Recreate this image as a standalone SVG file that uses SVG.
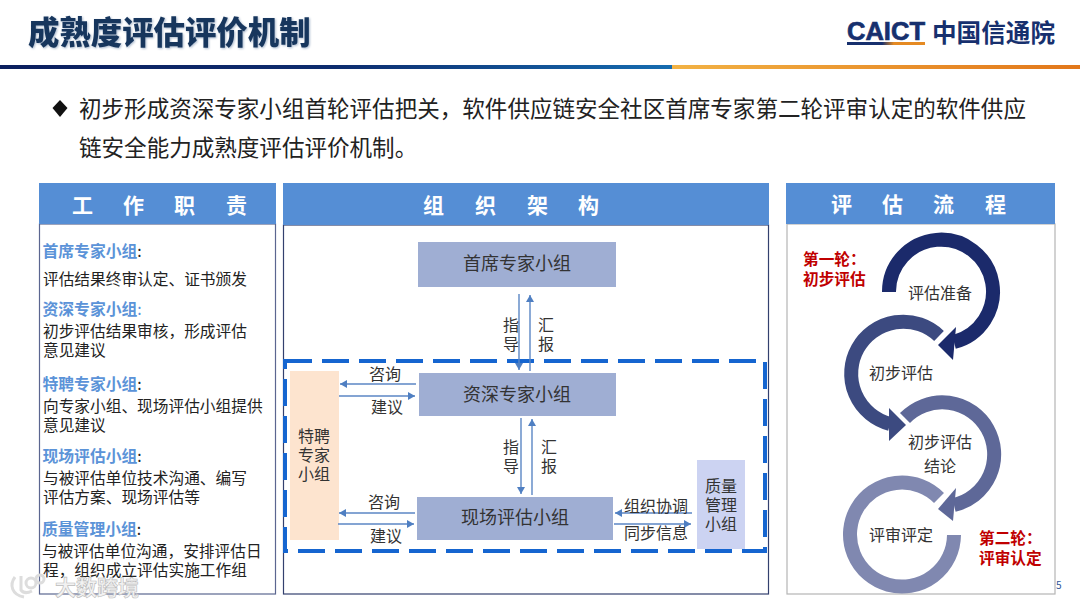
<svg xmlns="http://www.w3.org/2000/svg" width="1080" height="605" viewBox="0 0 1080 605">
<style>
text{font-family:"Noto Sans CJK SC","Noto Sans",sans-serif;fill:#333}
.hd{fill:#558ED5}
.hdt{fill:#fff;font-size:21px;font-weight:700}
.panel{fill:#fff;stroke:#5B6690;stroke-width:1.2}
.t{font-size:15.7px;fill:#222}
.h{font-size:15.8px;font-weight:700;fill:#5B93D8}
.node{fill:#9FAED3}
.nt{font-size:18px;text-anchor:middle;fill:#333}
.l{font-size:16px;text-anchor:middle;fill:#333}
.red{font-size:15.7px;font-weight:700;fill:#C00000}
.conn{fill:none;stroke:#5B86C4;stroke-width:1.4;marker-end:url(#a)}
.arc{fill:none;stroke-width:14}
</style>
<defs>
<marker id="a" markerUnits="userSpaceOnUse" markerWidth="9" markerHeight="9" refX="7" refY="4" orient="auto"><path d="M0 0L7 4L0 8z" fill="#4F7FC2"/></marker>
<linearGradient id="g1" x1="0" x2="1" y1="0" y2="0"><stop offset="0" stop-color="#0B1F5E"/><stop offset=".5" stop-color="#0D2C6E"/><stop offset="1" stop-color="#156CB0"/></linearGradient>
<linearGradient id="g2" x1="0" x2="1" y1="0" y2="0"><stop offset="0" stop-color="#F2B244"/><stop offset="1" stop-color="#E2771A"/></linearGradient>
<linearGradient id="g3" x1="0" x2="1" y1="0" y2="0"><stop offset="0" stop-color="#17306E"/><stop offset=".45" stop-color="#17306E"/><stop offset=".6" stop-color="#E58A22"/><stop offset="1" stop-color="#E58A22"/></linearGradient>
</defs>

<g id="header">
<text x="28" y="44" font-size="31.4" font-weight="900" style="fill:#17365D;filter:drop-shadow(1px 1px 1px #A9B8CC)">成熟度评估评价机制</text>
<rect x="0" y="65" width="672" height="4" fill="url(#g1)"/>
<rect x="672" y="65" width="408" height="4" fill="url(#g2)"/>
<g id="logo">
<text x="847" y="40" font-size="26.500" font-weight="700" textLength="78" lengthAdjust="spacingAndGlyphs" style="font-family:'Liberation Sans',sans-serif;fill:#17306E;stroke:#17306E;stroke-width:.7">CAICT</text>
<rect x="847" y="42" width="78" height="3" fill="url(#g3)"/>
<text x="932" y="42" font-size="24.600" font-weight="700" style="fill:#17306E">中国信通院</text>
</g>
</g>

<g id="intro">
<path d="M60 100L67.500 108L60 117L52.500 108z" fill="#111"/>
<text x="79" y="117" font-size="22.550" style="fill:#222">初步形成资深专家小组首轮评估把关，软件供应链安全社区首席专家第二轮评审认定的软件供应</text>
<text x="79" y="156" font-size="22.550" style="fill:#222">链安全能力成熟度评估评价机制。</text>
</g>

<g id="duties">
<rect class="panel" x="39.500" y="224" width="236" height="370"/>
<rect class="hd" x="39" y="183" width="237" height="41"/>
<text class="hdt" x="72 123 174 226" y="213">工作职责</text>
<text class="h" x="42.500" y="257">首席专家小组<tspan style="font-weight:400;fill:#222">:</tspan></text>
<text class="t" x="43" y="285">评估结果终审认定、证书颁发</text>
<text class="h" x="42.500" y="315">资深专家小组<tspan style="font-weight:400">:</tspan></text>
<text class="t" x="43" y="337">初步评估结果审核，形成评估</text>
<text class="t" x="43" y="356">意见建议</text>
<text class="h" x="42.500" y="390">特聘专家小组<tspan style="font-weight:400;fill:#222">:</tspan></text>
<text class="t" x="43" y="412">向专家小组、现场评估小组提供</text>
<text class="t" x="43" y="431">意见建议</text>
<text class="h" x="42.500" y="462">现场评估小组<tspan style="font-weight:400;fill:#222">:</tspan></text>
<text class="t" x="43" y="484">与被评估单位技术沟通、编写</text>
<text class="t" x="43" y="503">评估方案、现场评估等</text>
<text class="h" x="42" y="535">质量管理小组<tspan style="font-weight:400;fill:#222">:</tspan></text>
<text class="t" x="42" y="557">与被评估单位沟通，安排评估日</text>
<text class="t" x="43" y="576">程，组织成立评估实施工作组</text>
</g>

<g id="org-panel">
<rect class="panel" x="283.500" y="225" width="485" height="369" style="stroke:#33406E"/>
<rect class="hd" x="283" y="183" width="486" height="42"/>
<text class="hdt" x="423 475 527 578" y="213">组织架构</text>
<path d="M285 361H765V551H285z" fill="none" stroke="#1565D0" stroke-width="4" stroke-dasharray="27 10"/>
</g>

<g id="n-chief"><rect class="node" x="418" y="242" width="198" height="45"/><text class="nt" x="517" y="270">首席专家小组</text></g>
<g id="n-senior"><rect class="node" x="419" y="373" width="197" height="43"/><text class="nt" x="517" y="401">资深专家小组</text></g>
<g id="n-field"><rect class="node" x="417" y="497" width="196" height="43"/><text class="nt" x="515" y="524">现场评估小组</text></g>
<g id="n-special"><rect x="290" y="371" width="49" height="169" fill="#FDE4CF"/><text class="l" x="314" y="442">特聘</text><text class="l" x="314" y="461">专家</text><text class="l" x="314" y="480">小组</text></g>
<g id="n-quality"><rect x="697" y="460" width="48" height="89" fill="#CCD3F2"/><text class="l" x="721" y="492">质量</text><text class="l" x="721" y="511">管理</text><text class="l" x="721" y="530">小组</text></g>

<g id="connectors">
<path class="conn" d="M519 294V370"/>
<path class="conn" d="M530 371V295"/>
<path class="conn" d="M521 418V494"/>
<path class="conn" d="M532 495V419"/>
<path class="conn" d="M416 384H340"/>
<path class="conn" d="M339 396H415"/>
<path class="conn" d="M415 513H339"/>
<path class="conn" d="M338 524H414"/>
<path class="conn" d="M692 513H615"/>
<path class="conn" d="M614 524H691"/>
</g>
<g id="connector-labels">
<text class="l" x="511" y="331">指</text><text class="l" x="511" y="350">导</text>
<text class="l" x="546" y="331">汇</text><text class="l" x="546" y="350">报</text>
<text class="l" x="511" y="453">指</text><text class="l" x="511" y="472">导</text>
<text class="l" x="549" y="453">汇</text><text class="l" x="549" y="472">报</text>
<text class="l" x="385" y="380">咨询</text><text class="l" x="387" y="413">建议</text>
<text class="l" x="384" y="508">咨询</text><text class="l" x="386" y="542">建议</text>
<text class="l" x="656" y="512">组织协调</text><text class="l" x="656" y="539">同步信息</text>
</g>

<g id="process-panel">
<rect x="787" y="224" width="268" height="370" fill="#fff" stroke="#B5B5B5" stroke-width="1.200"/>
<rect class="hd" x="786" y="183" width="269" height="41"/>
<text class="hdt" x="831 882 933 985" y="212">评估流程</text>
</g>
<g id="step4"><path class="arc" stroke="#8088B0" d="M939 498A52 52 0 1 0 954 535"/><text class="l" x="901" y="541">评审评定</text></g>
<g id="step3"><path class="arc" stroke="#5E6898" d="M905 418A52 52 0 1 1 954 505"/><path fill="#5E6898" d="M938 509L956 488L953 521z"/><text class="l" x="940" y="448">初步评估</text><text class="l" x="940" y="472">结论</text></g>
<g id="step2"><path class="arc" stroke="#3C4A80" d="M939 336A52 52 0 1 0 890 424"/><path fill="#3C4A80" d="M906 425L889 408L889 441z"/><text class="l" x="901" y="379">初步评估</text></g>
<g id="step1"><path class="arc" stroke="#1B2A6B" d="M889 292A52 52 0 1 1 954 342"/><path fill="#1B2A6B" d="M938 345L956 327L953 360z"/><text class="l" x="940" y="299">评估准备</text></g>
<g id="round-labels">
<text class="red" x="803" y="265">第一轮：</text><text class="red" x="803" y="285">初步评估</text>
<text class="red" x="979" y="544">第二轮：</text><text class="red" x="979" y="564">评审认定</text>
</g>
<text x="1056" y="589" font-size="10" style="fill:#2F5597">5</text>

<g id="watermark">
<path d="M15 577C9 585 12 595 24 597M21 576V590C24 594 28 593 32 591M26 583a5 5 0 1 0 10 0a5 5 0 1 0 -10 0M36 579a4 4 0 1 0 8 0a4 4 0 1 0 -8 0" fill="none" stroke="#DDD" stroke-width="3"/>
<text x="55" y="595" font-size="21" font-weight="700" style="fill:#F2F2F2;stroke:#BBB;stroke-width:.6">大数跨境</text>
</g>
</svg>
